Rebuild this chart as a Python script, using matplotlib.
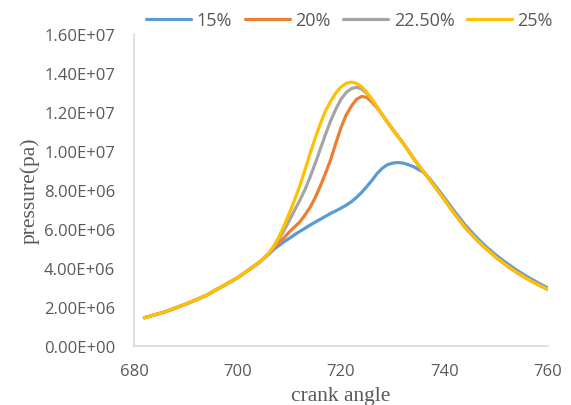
import matplotlib
matplotlib.use("Agg")
import matplotlib.pyplot as plt
from matplotlib.ticker import FuncFormatter

crank_angle = ([682, 684, 686, 688, 690, 692, 694, 696, 698, 700, 702, 704]
               + list(range(705, 741))
               + [742, 744, 746, 748, 750, 752, 754, 756, 758, 760])

# pressure, 1e6 Pa
p15 = [1.45, 1.6, 1.75, 1.95, 2.15, 2.37, 2.6, 2.9, 3.2, 3.5, 3.87, 4.25,
       4.47, 4.7, 4.95, 5.15, 5.35, 5.52, 5.7, 5.87, 6.03, 6.2, 6.35, 6.5,
       6.65, 6.8, 6.93, 7.07, 7.22, 7.4, 7.62, 7.88, 8.18, 8.5, 8.85, 9.12,
       9.3, 9.38, 9.41, 9.38, 9.3, 9.2, 9.05, 8.9, 8.62, 8.3, 7.95, 7.6,
       6.88, 6.2, 5.62, 5.1, 4.65, 4.25, 3.88, 3.55, 3.25, 2.97]
p20 = [1.45, 1.6, 1.75, 1.95, 2.15, 2.37, 2.6, 2.9, 3.2, 3.5, 3.87, 4.25,
       4.47, 4.72, 5.0, 5.27, 5.55, 5.85, 6.1, 6.35, 6.7, 7.1, 7.6, 8.2,
       8.85, 9.55, 10.4, 11.2, 11.85, 12.3, 12.65, 12.8, 12.75, 12.5, 12.2, 11.85,
       11.47, 11.1, 10.75, 10.4, 10.02, 9.62, 9.26, 8.92, 8.58, 8.23, 7.86, 7.5,
       6.76, 6.08, 5.5, 5.0, 4.54, 4.13, 3.77, 3.45, 3.16, 2.9]
p225 = [1.45, 1.6, 1.75, 1.95, 2.15, 2.37, 2.6, 2.9, 3.2, 3.5, 3.87, 4.25,
        4.47, 4.74, 5.07, 5.47, 5.93, 6.43, 6.95, 7.45, 8.0, 8.65, 9.35, 10.1,
        10.85, 11.55, 12.15, 12.65, 13.0, 13.2, 13.27, 13.18, 12.95, 12.62, 12.25, 11.85,
        11.47, 11.1, 10.75, 10.4, 10.02, 9.62, 9.26, 8.92, 8.58, 8.23, 7.86, 7.5,
        6.76, 6.08, 5.5, 5.0, 4.54, 4.13, 3.77, 3.45, 3.16, 2.9]
p25 = [1.45, 1.6, 1.75, 1.95, 2.15, 2.37, 2.6, 2.9, 3.2, 3.5, 3.87, 4.25,
       4.47, 4.76, 5.12, 5.6, 6.17, 6.8, 7.47, 8.18, 9.0, 9.85, 10.65, 11.4,
       12.05, 12.55, 12.98, 13.28, 13.47, 13.53, 13.47, 13.3, 13.0, 12.65, 12.25, 11.85,
       11.47, 11.1, 10.75, 10.4, 10.02, 9.62, 9.26, 8.92, 8.58, 8.23, 7.86, 7.5,
       6.76, 6.08, 5.5, 5.0, 4.54, 4.13, 3.77, 3.45, 3.16, 2.9]

labels = ["15%", "20%", "22.50%", "25%"]
colors = ["#5B9BD5", "#ED7D31", "#A5A5A5", "#FFC000"]
series = [p15, p20, p225, p25]

fig = plt.figure(figsize=(5.71, 4.06), dpi=100)
ax = fig.add_axes([0.2347, 0.1453, 0.725, 0.7685])

for vals, lab, col in zip(series, labels, colors):
    ax.plot(crank_angle, [v * 1e6 for v in vals], color=col, lw=2.3, label=lab,
            solid_capstyle="round", solid_joinstyle="round")

ax.set_xlim(680, 760)
ax.set_ylim(0, 1.6e7)
ax.set_xticks([680, 700, 720, 740, 760])
ax.set_yticks([i * 2e6 for i in range(9)])
ax.yaxis.set_major_formatter(FuncFormatter(lambda v, p: f"{v:.2E}"))

for s in ["top", "right"]:
    ax.spines[s].set_visible(False)
for s in ["left", "bottom"]:
    ax.spines[s].set_color("#d9d9d9")
    ax.spines[s].set_linewidth(1.2)
ax.tick_params(length=0, labelsize=12, labelcolor="#595959")
ax.tick_params(axis="y", pad=13.5)
ax.tick_params(axis="x", pad=12)
for t in ax.get_xticklabels() + ax.get_yticklabels():
    t.set_fontfamily("Open Sans")

ax.set_xlabel("crank angle", fontfamily="Liberation Serif", fontsize=15.5,
              color="#595959", labelpad=5)
ax.set_ylabel("pressure(pa)", fontfamily="Liberation Serif", fontsize=15.5,
              color="#595959", labelpad=3)

fig.legend(loc="center", bbox_to_anchor=(0.612, 0.948), ncol=4, frameon=False,
           prop={"family": "Open Sans", "size": 13}, labelcolor="#595959",
           handlelength=2.5, handletextpad=0.3, columnspacing=0.7)

fig.savefig("out.png", dpi=100)
